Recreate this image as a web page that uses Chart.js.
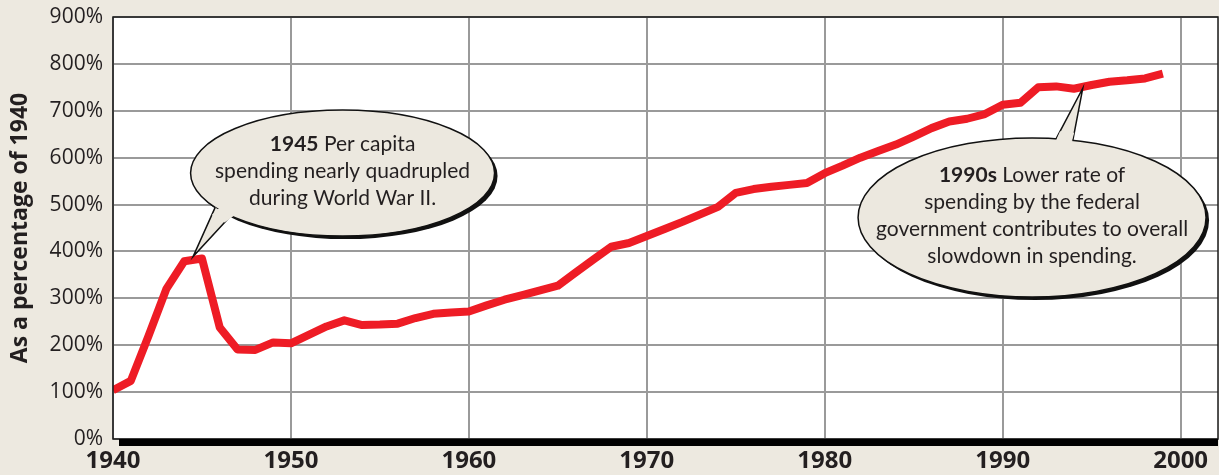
<!DOCTYPE html>
<html>
<head>
<meta charset="utf-8">
<script src="https://cdn.jsdelivr.net/npm/chart.js@4.4.0/dist/chart.umd.min.js"></script>
<style>
  html, body { margin: 0; padding: 0; background: #ede9e0; }
  #wrap { width: 1219px; height: 475px; position: relative; }
</style>
</head>
<body>
<div id="wrap"><canvas id="chart"></canvas></div>
<script>
// Per capita spending, as a percentage of 1940
const years = [1940, 1941, 1942, 1943, 1944, 1945, 1946, 1947, 1948, 1949,
               1950, 1951, 1952, 1953, 1954, 1955, 1956, 1957, 1958, 1959,
               1960, 1961, 1962, 1963, 1964, 1965, 1966, 1967, 1968, 1969,
               1970, 1971, 1972, 1973, 1974, 1975, 1976, 1977, 1978, 1979,
               1980, 1981, 1982, 1983, 1984, 1985, 1986, 1987, 1988, 1989,
               1990, 1991, 1992, 1993, 1994, 1995, 1996, 1997, 1998, 1999];
const spending = [104, 124, 220, 320, 379, 385, 238, 191, 190, 206,
                  204, 222, 240, 253, 243, 244, 246, 258, 267, 270,
                  272, 285, 297, 307, 317, 327, 355, 383, 410, 418,
                  433, 448, 463, 479, 495, 525, 533, 538, 542, 546,
                  567, 583, 600, 614, 628, 645, 663, 677, 683, 693,
                  713, 717, 750, 752, 747, 755, 762, 765, 769, 779];
const xTickYears = [1940, 1950, 1960, 1970, 1980, 1990, 2000];
const yAxisTitle = 'As a percentage of 1940';

// callout notes: tip sits on the data, the bubble is offset in pixels
const notes = [
    { tipYear: 1944.5, tipValue: 389, bold: '1945', lines: [' Per capita', 'spending nearly quadrupled', 'during World War II.'],
      dx: 149.5, dy: -83.5, rx: 152, ry: 63, base: [[-127.5, 34.5], [-112.5, 43.5]] },
    { tipYear: 1994.5, tipValue: 748, bold: '1990s', lines: [' Lower rate of', 'spending by the federal', 'government contributes to overall', 'slowdown in spending.'],
      dx: -50.7, dy: 129.2, rx: 174, ry: 79.5, base: [[24, -78.5], [40.7, -76.8]] }
];

const ink = '#231f20';
const fontFamily = 'Lato, "Open Sans", sans-serif';
const axisFont = '"Open Sans", Lato, sans-serif';

const framePlugin = {
    id: 'frame',
    beforeDraw(chart) {
        const { ctx, chartArea: a } = chart;
        ctx.save();
        ctx.fillStyle = '#ffffff';
        ctx.fillRect(a.left, a.top, a.right - a.left, a.bottom - a.top);
        ctx.restore();
    },
    afterDatasetsDraw(chart) {
        const { ctx, chartArea: a } = chart;
        ctx.save();
        ctx.strokeStyle = '#1a1a1a';
        ctx.lineWidth = 1.5;
        ctx.strokeRect(a.left, a.top, a.right - a.left, a.bottom - a.top);
        ctx.fillStyle = '#000000';
        ctx.fillRect(a.left + 6, a.bottom, a.right - a.left - 6, 7);
        ctx.restore();
    }
};

const calloutPlugin = {
    id: 'callouts',
    afterDraw(chart) {
        const { ctx } = chart;
        const xs = chart.scales.x, ys = chart.scales.y;
        notes.forEach(n => {
            const tx = xs.getPixelForValue(n.tipYear);
            const ty = ys.getPixelForValue(n.tipValue);
            const cx = tx + n.dx, cy = ty + n.dy;
            const b1 = [cx + n.base[0][0], cy + n.base[0][1]];
            const b2 = [cx + n.base[1][0], cy + n.base[1][1]];
            ctx.save();
            // shadow
            ctx.fillStyle = '#111';
            ctx.beginPath();
            ctx.ellipse(cx + 3, cy + 3, n.rx, n.ry, 0, 0, Math.PI * 2);
            ctx.fill();
            // bubble
            ctx.fillStyle = '#ece8df';
            ctx.strokeStyle = '#111';
            ctx.lineWidth = 1.5;
            ctx.beginPath();
            ctx.ellipse(cx, cy, n.rx, n.ry, 0, 0, Math.PI * 2);
            ctx.fill();
            ctx.stroke();
            // tail
            ctx.beginPath();
            ctx.moveTo(b1[0], b1[1]);
            ctx.lineTo(tx, ty);
            ctx.lineTo(b2[0], b2[1]);
            ctx.closePath();
            ctx.fill();
            ctx.beginPath();
            ctx.moveTo(b1[0], b1[1]);
            ctx.lineTo(tx, ty);
            ctx.lineTo(b2[0], b2[1]);
            ctx.stroke();
            // cover the outline where the tail joins
            ctx.beginPath();
            ctx.moveTo(b1[0] + (cx - b1[0]) * 0.05, b1[1] + (cy - b1[1]) * 0.05);
            ctx.lineTo(b1[0] + (tx - b1[0]) * 0.15, b1[1] + (ty - b1[1]) * 0.15);
            ctx.lineTo(b2[0] + (tx - b2[0]) * 0.15, b2[1] + (ty - b2[1]) * 0.15);
            ctx.lineTo(b2[0] + (cx - b2[0]) * 0.05, b2[1] + (cy - b2[1]) * 0.05);
            ctx.closePath();
            ctx.fill();
            // text
            ctx.fillStyle = ink;
            ctx.textBaseline = 'middle';
            const lh = 27;
            const y0 = cy - 2 - lh * (n.lines.length - 1) / 2;
            n.lines.forEach((line, i) => {
                const y = y0 + i * lh;
                if (i === 0) {
                    ctx.font = 'bold 21px ' + fontFamily;
                    const wb = ctx.measureText(n.bold).width;
                    ctx.font = '21px ' + fontFamily;
                    const wr = ctx.measureText(line).width;
                    const start = cx - (wb + wr) / 2;
                    ctx.textAlign = 'left';
                    ctx.font = 'bold 21px ' + fontFamily;
                    ctx.fillText(n.bold, start, y);
                    ctx.font = '21px ' + fontFamily;
                    ctx.fillText(line, start + wb, y);
                } else {
                    ctx.textAlign = 'center';
                    ctx.font = '21px ' + fontFamily;
                    ctx.fillText(line, cx, y);
                }
            });
            ctx.restore();
        });
    }
};

new Chart(document.getElementById('chart'), {
    type: 'line',
    data: {
        datasets: [{
            label: 'Spending',
            data: years.map((y, i) => ({ x: y, y: spending[i] })),
            borderColor: '#ee1c25',
            borderWidth: 8,
            pointRadius: 0,
            tension: 0,
            borderJoinStyle: 'round',
            fill: false
        }]
    },
    options: {
        responsive: true,
        maintainAspectRatio: false,
        animation: false,
        layout: { padding: { top: 17, right: 1, left: 0, bottom: 0 } },
        plugins: {
            legend: { display: false },
            tooltip: { enabled: false }
        },
        scales: {
            x: {
                type: 'linear',
                min: 1940,
                max: 2002.1,
                afterBuildTicks(scale) { scale.ticks = xTickYears.map(v => ({ value: v })); },
                afterFit(scale) { scale.height = 36; scale.paddingLeft = 0; scale.paddingRight = 0; },
                grid: { color: '#9a9a9a', lineWidth: 2, drawTicks: false },
                border: { display: false },
                ticks: {
                    color: ink,
                    padding: 8,
                    maxRotation: 0,
                    font: { family: axisFont, size: 24, weight: 'bold' },
                    callback: v => String(v)
                }
            },
            y: {
                min: 0,
                max: 900,
                afterFit(scale) { scale.width = 113; scale.paddingTop = 0; scale.paddingBottom = 0; },
                grid: { color: '#9a9a9a', lineWidth: 2, drawTicks: false },
                border: { display: false },
                ticks: {
                    stepSize: 100,
                    color: ink,
                    padding: 10,
                    font: { family: axisFont, size: 21 },
                    callback: v => v + '%'
                },
                title: {
                    display: true,
                    text: yAxisTitle,
                    color: ink,
                    padding: { top: 7, bottom: 0 },
                    font: { family: axisFont, size: 23, weight: 'bold' }
                }
            }
        }
    },
    plugins: [framePlugin, calloutPlugin]
});
</script>
</body>
</html>
